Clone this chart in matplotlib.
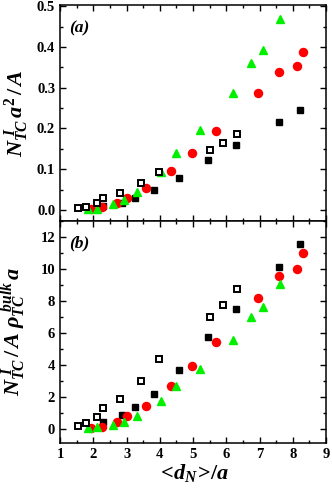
import matplotlib
matplotlib.use('Agg')
import matplotlib.pyplot as plt
from matplotlib.ticker import MultipleLocator

plt.rcParams['font.family'] = 'Liberation Serif'
plt.rcParams['font.weight'] = 'bold'
plt.rcParams['mathtext.fontset'] = 'custom'
plt.rcParams['mathtext.it'] = 'Liberation Serif:bold:italic'
plt.rcParams['mathtext.rm'] = 'Liberation Serif:bold'
plt.rcParams['mathtext.bf'] = 'Liberation Serif:bold'

# --- data ---
# open squares
x_open = [1.55, 1.77, 2.10, 2.29, 2.79, 3.43, 3.99, 5.50, 5.90, 6.32]
ya_open = [0.004, 0.008, 0.018, 0.029, 0.041, 0.065, 0.093, 0.148, 0.165, 0.186]
yb_open = [0.24, 0.41, 0.76, 1.36, 1.93, 3.05, 4.40, 7.03, 7.78, 8.78]

# filled squares
x_sq = [2.28, 2.87, 3.25, 3.84, 4.59, 5.45, 6.30, 7.58, 8.23]
ya_sq = [0.010, 0.018, 0.029, 0.048, 0.078, 0.123, 0.160, 0.216, 0.245]
yb_sq = [0.45, 0.91, 1.39, 2.22, 3.70, 5.80, 7.51, 10.18, 11.57]

# circles
x_circ = [1.92, 2.25, 2.72, 3.00, 3.58, 4.35, 4.96, 5.68, 6.94, 7.60, 8.13, 8.30]
ya_circ = [0.002, 0.007, 0.018, 0.030, 0.053, 0.095, 0.140, 0.193, 0.288, 0.338, 0.353, 0.388]
yb_circ = [0.07, 0.18, 0.49, 0.84, 1.49, 2.72, 3.95, 5.49, 8.20, 9.61, 10.03, 11.01]

# triangles
x_tri = [1.85, 2.10, 2.58, 2.92, 3.30, 4.03, 4.50, 5.22, 6.19, 6.73, 7.11, 7.62]
ya_tri = [0.003, 0.003, 0.014, 0.025, 0.044, 0.092, 0.140, 0.197, 0.288, 0.360, 0.392, 0.468]
yb_tri = [0.07, 0.16, 0.26, 0.47, 0.86, 1.80, 2.73, 3.80, 5.59, 7.04, 7.66, 9.11]

fig = plt.figure(figsize=(3.32, 4.91), dpi=100)
ax1 = fig.add_axes([0.181, 0.550, 0.801, 0.440])
ax2 = fig.add_axes([0.181, 0.098, 0.801, 0.452])


def draw(ax, ysq, ycirc, ytri, yopen):
    ax.plot(x_sq, ysq, 's', color='black', ms=4.8, mec='black', zorder=3)
    ax.plot(x_circ, ycirc, 'o', color='red', ms=5.8, mec='red', zorder=4)
    ax.plot(x_tri, ytri, '^', color='#00f000', ms=6.4, mec='#00f000', zorder=5)
    ax.plot(x_open, yopen, 's', mfc='white', mec='black', mew=1.4, ms=4.5, zorder=6)
    ax.set_xlim(1, 9)
    ax.xaxis.set_major_locator(MultipleLocator(1))
    ax.xaxis.set_minor_locator(MultipleLocator(0.5))
    ax.tick_params(which='both', direction='in', top=True, right=True, width=1)
    ax.tick_params(which='major', length=4.5, labelsize=10.5)
    ax.tick_params(which='minor', length=2.5)
    for s in ax.spines.values():
        s.set_linewidth(1.1)


draw(ax1, ya_sq, ya_circ, ya_tri, ya_open)
ax1.set_ylim(-0.027, 0.503)
ax1.yaxis.set_minor_locator(MultipleLocator(0.05))
ax1.tick_params(labelbottom=False)
ax1.set_yticks([0.0, 0.1, 0.2, 0.3, 0.4, 0.5])
ax1.set_yticklabels(['0.0', '0.1', '0.2', '0.3', '0.4', '0.5'])
ax1.text(0.035, 0.89, '(a)', transform=ax1.transAxes, fontsize=12.5,
         fontweight='bold', fontstyle='italic', va='center')
ax1.set_ylabel(r'$N_{TC}^{\ I}\,a^{2}\,/\,A$', fontsize=16, labelpad=4)

draw(ax2, yb_sq, yb_circ, yb_tri, yb_open)
ax2.set_ylim(-0.84, 13.03)
ax2.yaxis.set_major_locator(MultipleLocator(2))
ax2.yaxis.set_minor_locator(MultipleLocator(1))
ax2.text(0.035, 0.90, '(b)', transform=ax2.transAxes, fontsize=12.5,
         fontweight='bold', fontstyle='italic', va='center')
ax2.set_ylabel(r'$N_{TC}^{\ I}\,/\,A\;\rho_{TC}^{\ bulk}\,a$', fontsize=16, labelpad=8)
ax2.set_xlabel(r'$<\!d_{N}\!>\!/a$', fontsize=16, labelpad=1)

fig.savefig('out.png', dpi=100)
